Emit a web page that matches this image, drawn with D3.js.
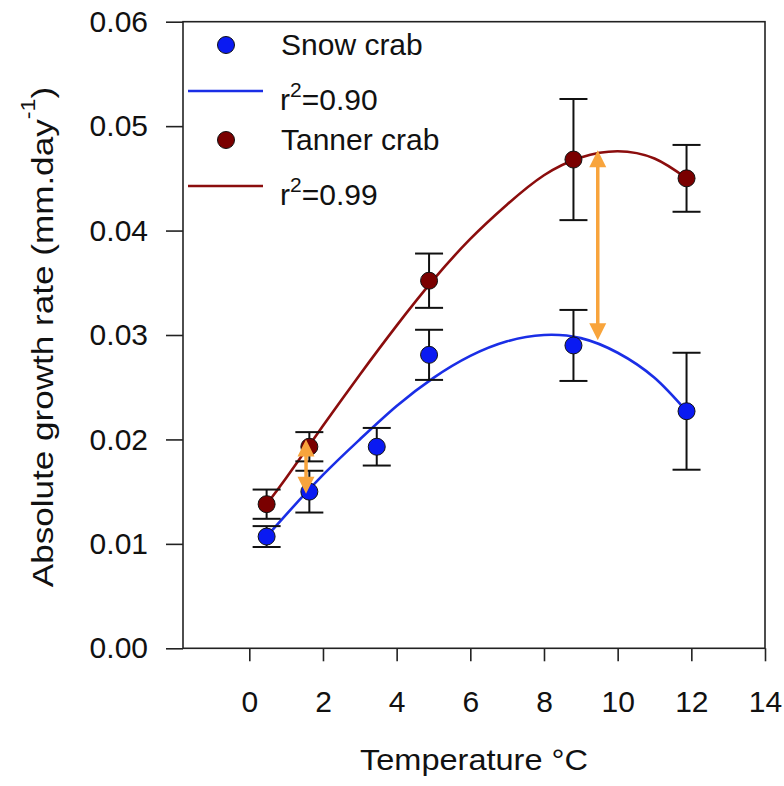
<!DOCTYPE html>
<html>
<head>
<meta charset="utf-8">
<script src="https://cdn.jsdelivr.net/npm/d3@7"></script>
<style>
  body { margin: 0; background: #fff; }
  svg text { font-family: "Liberation Sans", Arial, sans-serif; fill: #111; }
</style>
</head>
<body>
<svg id="chart" width="784" height="786"></svg>
<script>
// Axis ticks
const xTicks = [0, 2, 4, 6, 8, 10, 12, 14];
const yTicks = [0, 0.01, 0.02, 0.03, 0.04, 0.05, 0.06];

// Snow crab means and error bars
const snowTemp = [0.47, 1.63, 3.46, 4.88, 8.80, 11.87];
const snowRate = [0.0107, 0.0150, 0.0193, 0.0281, 0.0290, 0.0227];
const snowErr  = [0.0010, 0.0020, 0.0018, 0.0024, 0.0034, 0.0056];

// Tanner crab means and error bars
const tannerTemp = [0.47, 1.63, 4.88, 8.80, 11.87];
const tannerRate = [0.0138, 0.0193, 0.0352, 0.0468, 0.0450];
const tannerErr  = [0.0014, 0.0014, 0.0026, 0.0058, 0.0032];

// Fitted curves
const fitTemp   = [0.47, 1, 2, 3, 4, 5, 6, 7, 8, 9, 10, 11, 11.87];
const snowFit   = [0.0107, 0.0128, 0.0166, 0.0200, 0.0232, 0.0259, 0.0280, 0.0294, 0.0300, 0.0297, 0.0283, 0.0259, 0.0227];
const tannerFit = [0.0138, 0.0163, 0.0213, 0.0262, 0.0309, 0.0353, 0.0392, 0.0425, 0.0453, 0.0470, 0.0476, 0.0469, 0.0450];

// Orange double arrows (difference between species)
const arrowTemp   = [1.54, 9.46];
const arrowTop    = [0.0200, 0.0477];
const arrowBottom = [0.0148, 0.0295];

const legendItems = [
  { label: "Snow crab", r2: "0.90", fill: "#0a1af2", line: "#1a2ee6" },
  { label: "Tanner crab", r2: "0.99", fill: "#7a0000", line: "#8b0d0d" }
];

/*
** SETUP
*/
const svg = d3.select("#chart");
const plotLeft = 183, plotRight = 765, plotTop = 21.7, plotBottom = 648.3;

const x = d3.scaleLinear().domain([-1.8, 14]).range([plotLeft, plotRight]);
const y = d3.scaleLinear().domain([0, 0.06]).range([plotBottom, plotTop]);

/*
** AXES
*/
svg.append("g")
    .attr("transform", `translate(0,${plotBottom})`)
    .call(d3.axisBottom(x).tickValues(xTicks).tickSize(13).tickSizeOuter(0).tickPadding(29))
    .call(g => g.select(".domain").remove())
    .call(g => g.selectAll("line").attr("stroke", "#222").attr("stroke-width", 1.6))
    .call(g => g.selectAll("text").attr("font-size", 30).attr("fill", "#111"));

svg.append("g")
    .attr("transform", `translate(${plotLeft},0)`)
    .call(d3.axisLeft(y).tickValues(yTicks).tickFormat(d3.format(".2f")).tickSize(17).tickSizeOuter(0).tickPadding(18))
    .call(g => g.select(".domain").remove())
    .call(g => g.selectAll("line").attr("stroke", "#222").attr("stroke-width", 1.6))
    .call(g => g.selectAll("text").attr("font-size", 30).attr("fill", "#111"));

// Frame
svg.append("rect")
    .attr("x", plotLeft).attr("y", plotTop)
    .attr("width", plotRight - plotLeft).attr("height", plotBottom - plotTop)
    .attr("fill", "none").attr("stroke", "#222").attr("stroke-width", 1.6);

// Axis titles
svg.append("text")
    .attr("x", (360 + 588) / 2).attr("y", 770)
    .attr("text-anchor", "middle").attr("font-size", 30)
    .attr("textLength", 228).attr("lengthAdjust", "spacingAndGlyphs")
    .text("Temperature °C");

const yTitle = svg.append("text")
    .attr("transform", "translate(53,337) rotate(-90) scale(1.17,1)")
    .attr("text-anchor", "middle").attr("font-size", 30);
yTitle.append("tspan").text("Absolute growth rate (mm.day");
yTitle.append("tspan").attr("font-size", 20).attr("dy", -18).text("-1");
yTitle.append("tspan").attr("dy", 18).text(")");

/*
** FITTED CURVES
*/
const line = d3.line()
    .x(d => x(d[0]))
    .y(d => y(d[1]))
    .curve(d3.curveNatural);

svg.append("path")
    .datum(fitTemp.map((t, i) => [t, snowFit[i]]))
    .attr("d", line).attr("fill", "none")
    .attr("stroke", legendItems[0].line).attr("stroke-width", 2.6);

svg.append("path")
    .datum(fitTemp.map((t, i) => [t, tannerFit[i]]))
    .attr("d", line).attr("fill", "none")
    .attr("stroke", legendItems[1].line).attr("stroke-width", 2.6);

/*
** ERROR BARS AND POINTS
*/
function drawSeries(temps, rates, errs, fill) {
  let data = temps.map((t, i) => ({ t: t, v: rates[i], e: errs[i] }));
  let g = svg.append("g");
  let bars = g.selectAll(".err").data(data).enter().append("g").attr("stroke", "#111").attr("stroke-width", 2);
  bars.append("line")
      .attr("x1", d => x(d.t)).attr("x2", d => x(d.t))
      .attr("y1", d => y(d.v + d.e)).attr("y2", d => y(d.v - d.e));
  bars.append("line")
      .attr("x1", d => x(d.t) - 14).attr("x2", d => x(d.t) + 14)
      .attr("y1", d => y(d.v + d.e)).attr("y2", d => y(d.v + d.e));
  bars.append("line")
      .attr("x1", d => x(d.t) - 14).attr("x2", d => x(d.t) + 14)
      .attr("y1", d => y(d.v - d.e)).attr("y2", d => y(d.v - d.e));
  g.selectAll(".pt").data(data).enter().append("circle")
      .attr("cx", d => x(d.t)).attr("cy", d => y(d.v))
      .attr("r", 8.5).attr("fill", fill)
      .attr("stroke", "#111").attr("stroke-width", 1);
}
drawSeries(snowTemp, snowRate, snowErr, legendItems[0].fill);
drawSeries(tannerTemp, tannerRate, tannerErr, legendItems[1].fill);

/*
** ARROWS
*/
const arrowColor = "#f8a43c";
const headLen = 17, headHalf = 8.5;
arrowTemp.forEach((t, i) => {
  let ax = x(t), y1 = y(arrowTop[i]), y2 = y(arrowBottom[i]);
  svg.append("line")
      .attr("x1", ax).attr("x2", ax)
      .attr("y1", y1 + headLen - 2).attr("y2", y2 - headLen + 2)
      .attr("stroke", arrowColor).attr("stroke-width", 3.5);
  svg.append("path")
      .attr("d", `M${ax},${y1} L${ax - headHalf},${y1 + headLen} L${ax + headHalf},${y1 + headLen} Z`)
      .attr("fill", arrowColor);
  svg.append("path")
      .attr("d", `M${ax},${y2} L${ax - headHalf},${y2 - headLen} L${ax + headHalf},${y2 - headLen} Z`)
      .attr("fill", arrowColor);
});

/*
** LEGEND
*/
legendItems.forEach((item, i) => {
  let oy = i * 95;
  svg.append("circle")
      .attr("cx", 226).attr("cy", 45 + oy).attr("r", 8.5)
      .attr("fill", item.fill).attr("stroke", "#111").attr("stroke-width", 1);
  svg.append("text")
      .attr("x", 281).attr("y", 55 + oy).attr("font-size", 30)
      .text(item.label);
  svg.append("line")
      .attr("x1", 188).attr("x2", 263)
      .attr("y1", 91 + oy).attr("y2", 91 + oy)
      .attr("stroke", item.line).attr("stroke-width", 2.6);
  let r2 = svg.append("text")
      .attr("x", 280).attr("y", 110 + oy).attr("font-size", 30);
  r2.append("tspan").text("r");
  r2.append("tspan").attr("font-size", 21).attr("dy", -13).text("2");
  r2.append("tspan").attr("dy", 13).text("=" + item.r2);
});
</script>
</body>
</html>
